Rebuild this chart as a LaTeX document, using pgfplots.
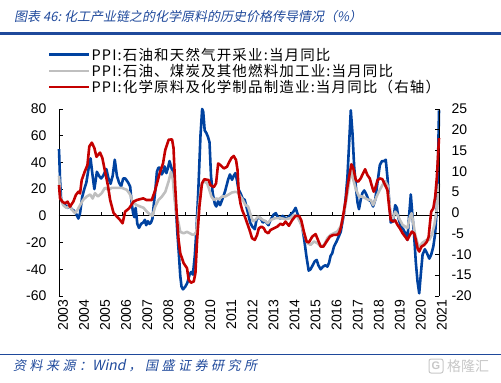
\documentclass[border=0pt]{standalone}
\usepackage{pgfplots}
\pgfplotsset{compat=1.18}
\usepackage{fontspec}
\setmainfont{Liberation Sans}
\newfontfamily\cjk{Noto Sans CJK SC}
\newfontfamily\cjkleg{Noto Sans CJK SC}[LetterSpace=8]
\newfontfamily\cjkit{Noto Sans CJK SC}[FakeSlant=0.2]
\newfontfamily\cjkitsp{Noto Sans CJK SC}[FakeSlant=0.2,LetterSpace=27]
\definecolor{ppiblue}{RGB}{0,66,160}
\definecolor{ppigray}{RGB}{191,191,191}
\definecolor{ppired}{RGB}{196,0,0}
\definecolor{navy}{RGB}{31,73,155}
\begin{document}
\begin{tikzpicture}
\useasboundingbox (0pt,0pt) rectangle (501pt,-383pt);
\node[anchor=west, text=navy, font=\cjkit\fontsize{13}{15}\selectfont, inner sep=0pt] at (14pt,-17pt) {图表 46:\ 化工产业链之的化学原料的历史价格传导情况（\%）};
\draw[navy, line width=2.3pt] (0pt,-33.5pt) -- (501pt,-33.5pt);
\draw[navy, line width=1.5pt] (0pt,-354.3pt) -- (501pt,-354.3pt);
\node[anchor=west, text=navy, font=\cjkitsp\fontsize{13}{15}\selectfont, inner sep=0pt] at (13pt,-366pt) {资料来源：{\cjkit\fontsize{14}{15}\selectfont Wind}\hspace{3pt}，国盛证券研究所};
\node[anchor=west, text=black!22, font=\cjk\fontsize{14}{16}\selectfont, inner sep=0pt] at (447pt,-366pt) {格隆汇};
\draw[black!22, line width=1pt, rounded corners=2pt] (429pt,-359pt) rectangle (443pt,-373pt);
\node[text=black!22, font=\fontsize{11}{12}\selectfont\bfseries, inner sep=0pt] at (436pt,-366pt) {G};

\begin{axis}[
  at={(59pt,-296pt)}, anchor=south west,
  width=380pt, height=187pt, scale only axis,
  xmin=2003, xmax=2021.05, ymin=-60, ymax=80,
  ytick={-60,-40,...,80},
  axis y line*=left, axis x line*=bottom,
  x axis line style={draw=none},
  y axis line style={-, black, line width=0.8pt},
  xtick={2003,...,2021},
  xticklabels={2003,2004,2005,2006,2007,2008,2009,2010,2011,2012,2013,2014,2015,2016,2017,2018,2019,2020,2021},
  xtick style={draw=none},
  xticklabel style={rotate=90, anchor=east, yshift=-4pt},
  tick align=inside, major tick length=4pt,
  ytick style={black, line width=0.8pt},
  yticklabel style={xshift=-9pt},
  tick label style={font=\fontsize{14}{16}\selectfont},
  /pgf/number format/assume math mode=true,
  clip=false,
  line join=round,
]
\draw[black, line width=0.8pt] (axis cs:2003,0) -- (axis cs:2021.05,0);
\pgfplotsinvokeforeach{2004,2005,2006,2007,2008,2009,2010,2011,2012,2013,2014,2015,2016,2017,2018,2019,2020}{
  \draw[black, line width=0.8pt] (axis cs:#1,0) -- ++(0pt,4pt);
}
\addplot[ppiblue, line width=2.6pt, no marks] coordinates {
(2003.00,50) (2003.05,27) (2003.10,12) (2003.20,9) (2003.30,8) (2003.40,6) (2003.50,8) (2003.60,5) (2003.70,4) (2003.80,2) (2003.92,-2) (2004.00,2) (2004.10,14) (2004.20,20) (2004.30,25) (2004.40,35) (2004.50,43) (2004.58,32) (2004.68,20) (2004.80,33) (2004.90,30) (2005.00,28) (2005.10,30) (2005.25,35) (2005.35,28) (2005.45,24) (2005.55,30) (2005.65,42) (2005.75,30) (2005.85,25) (2005.95,22) (2006.05,28) (2006.15,28) (2006.28,25) (2006.38,22) (2006.45,10) (2006.52,2) (2006.58,-1) (2006.64,6) (2006.72,-6) (2006.80,-9) (2006.90,-6) (2007.00,-5) (2007.08,-3) (2007.14,-7) (2007.22,-4) (2007.30,-6) (2007.37,-5) (2007.44,-2) (2007.50,8) (2007.58,20) (2007.65,33) (2007.72,36) (2007.80,36) (2007.88,31) (2007.95,33) (2008.02,37) (2008.10,32) (2008.18,36) (2008.25,41) (2008.32,37) (2008.40,33) (2008.45,25) (2008.55,7) (2008.62,-12) (2008.70,-30) (2008.76,-45) (2008.82,-53) (2008.89,-55) (2009.00,-53) (2009.10,-50) (2009.20,-44) (2009.28,-42) (2009.36,-44) (2009.45,-30) (2009.53,-10) (2009.62,20) (2009.72,60) (2009.80,80) (2009.85,78) (2009.92,64) (2010.00,62) (2010.08,59) (2010.15,55) (2010.22,30) (2010.30,17) (2010.40,9) (2010.47,7) (2010.56,11) (2010.65,8) (2010.75,12) (2010.90,19) (2011.03,27) (2011.12,31) (2011.22,27) (2011.30,30) (2011.38,32) (2011.45,27) (2011.52,20) (2011.62,17) (2011.72,13) (2011.82,12) (2011.90,7) (2011.98,2) (2012.08,-5) (2012.18,-8) (2012.30,-10) (2012.38,-3) (2012.48,-1) (2012.58,-2) (2012.68,-5) (2012.80,-4) (2012.95,-7) (2013.05,-3) (2013.20,1) (2013.30,2) (2013.40,-1) (2013.52,-2) (2013.62,0) (2013.78,-2) (2013.90,-1) (2014.00,1) (2014.13,3) (2014.24,6) (2014.32,2) (2014.44,-3) (2014.55,-8) (2014.65,-18) (2014.75,-30) (2014.86,-41) (2014.95,-40) (2015.05,-37) (2015.15,-34) (2015.24,-33) (2015.32,-37) (2015.43,-40) (2015.54,-38) (2015.65,-37) (2015.75,-38) (2015.83,-35) (2015.90,-30) (2015.98,-28) (2016.06,-23) (2016.19,-19) (2016.30,-15) (2016.38,-12) (2016.46,-5) (2016.54,2) (2016.62,14) (2016.70,29) (2016.78,54) (2016.86,79) (2016.94,62) (2017.02,37) (2017.10,22) (2017.18,10) (2017.25,5) (2017.33,12) (2017.41,17) (2017.50,19) (2017.60,16) (2017.70,12) (2017.81,11) (2017.92,7) (2018.02,12) (2018.12,24) (2018.24,38) (2018.34,41) (2018.44,41) (2018.52,42) (2018.60,29) (2018.68,12) (2018.76,-5) (2018.87,-4) (2018.97,8) (2019.05,6) (2019.13,-2) (2019.24,-8) (2019.35,-10) (2019.45,-13) (2019.55,-18) (2019.63,0) (2019.71,16) (2019.79,0) (2019.87,-15) (2019.95,-35) (2020.03,-49) (2020.11,-58) (2020.19,-43) (2020.27,-29) (2020.38,-25) (2020.48,-28) (2020.59,-32) (2020.68,-29) (2020.78,-23) (2020.87,-13) (2020.95,7) (2021.00,37) (2021.05,79)
};
\addplot[ppigray, line width=2.6pt, no marks] coordinates {
(2003.00,30) (2003.06,14) (2003.20,8) (2003.35,6) (2003.50,7) (2003.62,4.5) (2003.76,2) (2003.88,4.5) (2004.00,8) (2004.15,12) (2004.32,14.5) (2004.48,16) (2004.60,13) (2004.71,17) (2004.85,14.5) (2005.03,17) (2005.18,21) (2005.35,19.5) (2005.51,21) (2005.75,21) (2005.98,21) (2006.22,19.5) (2006.38,16) (2006.50,10) (2006.70,8) (2006.86,7) (2007.02,6) (2007.18,3) (2007.33,1) (2007.44,0) (2007.57,7) (2007.73,12) (2007.89,14.5) (2008.05,18) (2008.21,26) (2008.32,33) (2008.41,27) (2008.49,12) (2008.57,2) (2008.68,-5.5) (2008.76,-12) (2008.92,-13) (2009.08,-12) (2009.21,-13) (2009.32,-14) (2009.43,-14) (2009.52,-12) (2009.64,7) (2009.75,22) (2009.87,26) (2010.03,24.5) (2010.11,21) (2010.24,14.5) (2010.35,12) (2010.46,13) (2010.60,12.5) (2010.75,14.5) (2010.90,14.5) (2011.06,16) (2011.22,17.5) (2011.38,18) (2011.50,17.5) (2011.62,14.5) (2011.73,12) (2011.86,8) (2011.98,7) (2012.08,2) (2012.21,-4) (2012.33,-3) (2012.46,-0.5) (2012.57,-1.7) (2012.68,-3) (2012.81,-4) (2012.92,-5.5) (2013.05,-3) (2013.29,-1.7) (2013.52,-1.7) (2013.76,-2.5) (2014.00,-1.7) (2014.16,0.7) (2014.32,-0.5) (2014.48,-5.5) (2014.63,-13) (2014.79,-20.4) (2014.95,-21.7) (2015.11,-19.2) (2015.27,-20.4) (2015.43,-23) (2015.59,-21.7) (2015.75,-16.7) (2015.90,-14.2) (2016.06,-13) (2016.22,-11.7) (2016.38,-8) (2016.54,2) (2016.70,17) (2016.81,28) (2016.89,33) (2016.98,27) (2017.10,20) (2017.25,14.5) (2017.40,14.5) (2017.57,13) (2017.70,12) (2017.81,12) (2017.92,8) (2018.02,12) (2018.13,16) (2018.24,19.5) (2018.36,23) (2018.49,26) (2018.60,23) (2018.68,12) (2018.76,-0.5) (2018.87,-1.7) (2018.97,3.2) (2019.08,0.7) (2019.19,-3) (2019.32,-6.7) (2019.44,-8) (2019.55,-9.2) (2019.67,-0.5) (2019.75,2) (2019.83,-5.5) (2019.92,-14.2) (2020.03,-20.4) (2020.14,-24.2) (2020.24,-20.4) (2020.35,-19.2) (2020.46,-18) (2020.59,-18) (2020.71,-14.2) (2020.83,-6.7) (2020.94,4.5) (2021.05,24)
};
\end{axis}

\begin{axis}[
  at={(59pt,-296pt)}, anchor=south west,
  width=380pt, height=187pt, scale only axis,
  xmin=2003, xmax=2021.05, ymin=-20, ymax=25,
  ytick={-20,-15,...,25},
  axis y line*=right, axis x line=none,
  y axis line style={-, black, line width=0.8pt},
  tick align=inside, major tick length=4pt,
  ytick style={black, line width=0.8pt},
  yticklabel style={xshift=9pt},
  tick label style={font=\fontsize{14}{16}\selectfont},
  /pgf/number format/assume math mode=true,
  clip=false,
  line join=round,
  legend style={at={(axis description cs:-0.03,1.335)}, anchor=north west, draw=none, fill=none,
    font=\cjkleg\fontsize{14.5}{16}\selectfont, inner sep=0pt, row sep=0pt,
    nodes={inner sep=1.2pt}},
  legend cell align=left,
  legend image code/.code={\draw[#1] (0pt,0pt) -- (40pt,0pt);},
]
\addlegendimage{ppiblue, line width=2.6pt}
\addlegendentry{PPI:石油和天然气开采业:当月同比}
\addlegendimage{ppigray, line width=2.6pt}
\addlegendentry{PPI:石油、煤炭及其他燃料加工业:当月同比}
\addplot[ppired, line width=2.6pt, no marks] coordinates {
(2003.00,6.7) (2003.05,3.5) (2003.16,2.7) (2003.28,2.3) (2003.41,2.7) (2003.52,1.5) (2003.68,2.7) (2003.80,4.3) (2003.92,5.1) (2004.00,4.7) (2004.08,7.9) (2004.22,9.9) (2004.35,11.5) (2004.44,16) (2004.56,16.9) (2004.68,15.6) (2004.78,13.5) (2004.95,14.5) (2005.06,13.2) (2005.19,9.9) (2005.32,6.7) (2005.43,3.1) (2005.59,0) (2005.75,-0.9) (2005.90,-1.7) (2006.02,-2.5) (2006.14,0.3) (2006.33,1.1) (2006.54,2.7) (2006.70,3.1) (2007.00,3.5) (2007.15,3.1) (2007.41,3.1) (2007.57,5.5) (2007.78,9.5) (2007.94,11.9) (2008.05,15.2) (2008.21,17.6) (2008.37,17.7) (2008.44,15.6) (2008.52,6.3) (2008.60,-0.9) (2008.68,-6.5) (2008.76,-9.7) (2008.92,-12.1) (2009.08,-13.3) (2009.16,-16.1) (2009.27,-16.8) (2009.40,-16.5) (2009.48,-14.5) (2009.56,-6.5) (2009.67,1.5) (2009.79,7.1) (2009.90,8.1) (2010.11,7.9) (2010.19,6.7) (2010.35,6.2) (2010.46,7.1) (2010.56,11.9) (2010.67,11.5) (2010.83,10.7) (2010.98,11.1) (2011.09,12.3) (2011.19,13.2) (2011.30,13.7) (2011.41,12.7) (2011.48,10.3) (2011.54,4.7) (2011.62,2.3) (2011.70,0.7) (2011.83,-0.9) (2011.94,-2.5) (2012.05,-4.1) (2012.17,-6.1) (2012.30,-6.5) (2012.41,-5.3) (2012.49,-3.7) (2012.62,-3.3) (2012.73,-3.7) (2012.81,-4.5) (2012.94,-4.9) (2013.05,-4.1) (2013.21,-3.7) (2013.37,-3.3) (2013.52,-2.6) (2013.64,-2.9) (2013.76,-2.1) (2013.92,-3.1) (2014.08,-1.7) (2014.24,-0.7) (2014.40,-0.7) (2014.51,-1.8) (2014.63,-4.5) (2014.76,-6.9) (2014.87,-7.1) (2015.03,-5.7) (2015.19,-5.1) (2015.30,-6.5) (2015.43,-8.1) (2015.56,-8.1) (2015.71,-6.9) (2015.87,-5.7) (2016.03,-5.3) (2016.19,-5.3) (2016.30,-4.9) (2016.38,-3.7) (2016.46,-1.7) (2016.54,0.7) (2016.62,3.1) (2016.70,6.3) (2016.81,9.5) (2016.89,11.7) (2016.98,10.7) (2017.10,7.9) (2017.21,7.5) (2017.33,8.3) (2017.44,9.5) (2017.54,10.5) (2017.65,9.1) (2017.76,8.3) (2017.86,6.5) (2017.95,5.1) (2018.02,5.9) (2018.13,7.9) (2018.24,8.3) (2018.36,8.1) (2018.49,6.7) (2018.60,5.5) (2018.68,1.5) (2018.76,-1.7) (2018.87,-2.1) (2018.97,-1.8) (2019.08,-2.9) (2019.19,-3.7) (2019.32,-4.9) (2019.44,-5.7) (2019.55,-6.5) (2019.67,-5.3) (2019.76,-4.5) (2019.87,-4.9) (2019.95,-6.5) (2020.03,-8.5) (2020.11,-9.3) (2020.22,-8.1) (2020.35,-7.7) (2020.48,-6.9) (2020.56,-5.7) (2020.62,-2.5) (2020.68,0.3) (2020.78,1.1) (2020.87,3.9) (2020.95,8.7) (2021.05,18)
};
\addlegendentry{PPI:化学原料及化学制品制造业:当月同比（右轴）}
\end{axis}
\end{tikzpicture}
\end{document}
